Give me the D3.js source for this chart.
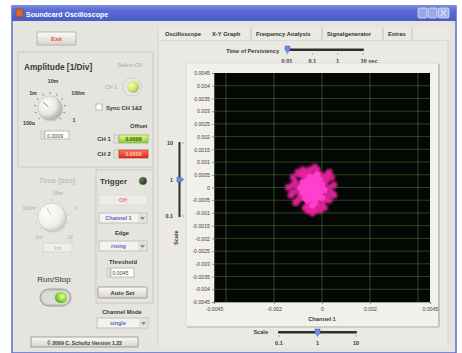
<!DOCTYPE html>
<html><head><meta charset="utf-8">
<script src="https://cdn.jsdelivr.net/npm/d3@7"></script>
<style>
html,body{margin:0;padding:0;background:#fff;}
svg{display:block;font-family:"Liberation Sans","DejaVu Sans",sans-serif;}
</style></head>
<body>
<svg id="c" width="462" height="353"></svg>
<script>
// ---------- data ----------
const yTickValues = [0.0045,0.004,0.0035,0.003,0.0025,0.002,0.0015,0.001,0.0005,0,-0.0005,-0.001,-0.0015,-0.002,-0.0025,-0.003,-0.0035,-0.004,-0.0045];
const yTickLabels = ["0.0045","0.004","0.0035","0.003","0.0025","0.002","0.0015","0.001","0.0005","0","-0.0005","-0.001","-0.0015","-0.002","-0.0025","-0.003","-0.0035","-0.004","-0.0045"];
const xTickValues = [-0.0045,-0.002,0,0.002,0.0045];
const xTickLabels = ["-0.0045","-0.002","0","0.002","0.0045"];
const xGridValues = [-0.004,-0.002,0,0.002,0.004];
const tabs = ["Oscilloscope","X-Y Graph","Frequency Analysis","Signalgenerator","Extras"];
const persistencyLabels = ["0.01","0.1","1","10 sec"];
const scaleLabels = ["0.1","1","10"];
// X-Y samples (Channel 1, Channel 2)
const ch1 = [-0.0004,-0.0002,-0.0006,-0.0003,-0.0005,-0.0001,-0.0007,-0.0004,-0.0002,-0.0006,0,-0.0008,-0.0003,-0.0005,-0.0001,-0.0009,0.0001,-0.0004,-0.0007,-0.0002,-0.0006,0,-0.0008,-0.0003,-0.0005,-0.0001,-0.0004,-0.0002,-0.0006,-0.0003,-0.0005,-0.0007,-0.0004,-0.0002,-0.0003,-0.0005,-0.0001,-0.0006,-0.0004,-0.0003,-0.0008,0.0001,-0.001,0.0002,-0.0005,-0.0002,-0.0007,-0.0009,0,-0.0004,-0.0006,0.0001,-0.0011,0.0003,-0.0004,-0.0008,-0.0001,-0.001,0.0002,-0.0003,-0.0006,0,-0.0012,0.0004,-0.0005,-0.0009,0.0003,-0.0007,-0.0002,-0.0012,0.0005,-0.0004,-0.0011,0.0002,-0.0008,0.0001,-0.0013,-0.0006,0.0004,-0.0003,-0.0012,0.0005,-0.0001,-0.001,-0.0014,0.0003,-0.0005,-0.0003,-0.0007,-0.0001,-0.0002,-0.0006];
const ch2 = [-0.0001,0,-0.0002,0.0002,-0.0004,-0.0002,0.0001,0.0003,-0.0004,-0.0005,0.0001,-0.0002,-0.0006,0.0004,0.0003,0,-0.0001,-0.0007,-0.0004,0.0005,0.0003,-0.0004,0.0002,-0.0002,0,0,0.0001,0.0002,-0.0001,-0.0003,-0.0002,-0.0001,-0.0004,-0.0001,0,0.0002,-0.0003,0.0001,-0.0002,0.0004,-0.0004,0.0002,-0.0001,-0.0003,-0.0006,-0.0007,0.0004,-0.0003,0.0004,0.0005,-0.0007,-0.0005,0.0002,0,-0.0009,0.0005,0.0005,-0.0005,0.0003,-0.0008,0.0005,-0.0007,-0.0002,-0.0002,0.0007,0.0005,-0.0005,-0.0008,0.0007,0.0001,0.0001,-0.001,-0.0006,0.0005,0.0007,-0.0008,-0.0003,-0.0009,0.0004,0.0008,0.0004,-0.0003,-0.0009,0.0006,0,0.0006,-0.0009,-0.0009,0.0006,0.0005,-0.0006,0.0005];

// ---------- helpers ----------
const svg = d3.select("#c");
const defs = svg.append("defs");
function lin(id, stops, vertical=true){
  const g = defs.append("linearGradient").attr("id",id)
    .attr("x1",0).attr("y1",0).attr("x2",vertical?0:1).attr("y2",vertical?1:0);
  stops.forEach(s=>g.append("stop").attr("offset",s[0]).attr("stop-color",s[1]));
}
function rad(id, stops, cx="35%", cy="35%"){
  const g = defs.append("radialGradient").attr("id",id).attr("cx",cx).attr("cy",cy).attr("r","70%");
  stops.forEach(s=>g.append("stop").attr("offset",s[0]).attr("stop-color",s[1]));
}
lin("title",[[0,"#7388e0"],[0.3,"#5a6cd4"],[1,"#4a5cc6"]]);
lin("btn",[[0,"#fbfbf9"],[1,"#d6d4cc"]]);
lin("green",[[0,"#e8ff7a"],[1,"#7ed23a"]]);
lin("red",[[0,"#ff7a5a"],[1,"#e2231b"]]);
rad("knob",[[0,"#ffffff"],[0.6,"#e6e6e2"],[1,"#a9a8a2"]]);
rad("knobG",[[0,"#ffffff"],[0.7,"#f0efec"],[1,"#cfcec9"]]);
rad("led",[[0,"#f6ffb0"],[0.6,"#cfe86a"],[1,"#9fb97a"]]);
rad("ledDark",[[0,"#5d7d4a"],[1,"#1f3318"]]);
rad("run",[[0,"#f2ffa0"],[0.5,"#8fe03a"],[1,"#4c9a1a"]],"60%","40%");
const blur = defs.append("filter").attr("id","soft").attr("x","-30%").attr("y","-30%").attr("width","160%").attr("height","160%");
blur.append("feGaussianBlur").attr("stdDeviation",1.1);

function text(x,y,s,opt={}){
  return svg.append("text").attr("x",x).attr("y",y).text(s)
    .attr("font-size",opt.size||6.5).attr("font-weight",opt.weight||"bold")
    .attr("fill",opt.fill||"#3a3a3a").attr("text-anchor",opt.anchor||"start")
    .attr("transform",opt.transform||null);
}
function rect(x,y,w,h,fill,stroke,sw=1,rx=0){
  return svg.append("rect").attr("x",x).attr("y",y).attr("width",w).attr("height",h)
    .attr("fill",fill).attr("stroke",stroke||"none").attr("stroke-width",sw).attr("rx",rx);
}
function dropdown(x,y,w,h,label,col){
  rect(x,y,w,h,"#f3f2ee","#b9b7b0",0.8);
  rect(x+w-9,y+1,8,h-2,"#e4e2dc","none");
  svg.append("path").attr("d",`M${x+w-7},${y+h/2-1}l2.5,3l2.5,-3z`).attr("fill","#888");
  text(x+(w-9)/2,y+h/2+2.2,label,{size:5.5,fill:col||"#5b66c8",anchor:"middle"});
}
function knob(cx,cy,r,fillId,tickCol,pointerAng,pCol){
  for(let i=0;i<=10;i++){
    const a = (-225 + i*27)*Math.PI/180;
    svg.append("line").attr("x1",cx+Math.cos(a)*(r+2)).attr("y1",cy+Math.sin(a)*(r+2))
      .attr("x2",cx+Math.cos(a)*(r+4)).attr("y2",cy+Math.sin(a)*(r+4))
      .attr("stroke",tickCol).attr("stroke-width",0.8);
  }
  svg.append("circle").attr("cx",cx+1).attr("cy",cy+1.5).attr("r",r).attr("fill","#b8b7b1").attr("opacity",0.5);
  svg.append("circle").attr("cx",cx).attr("cy",cy).attr("r",r).attr("fill",`url(#${fillId})`).attr("stroke","#bdbcb6").attr("stroke-width",0.6);
  const a = pointerAng*Math.PI/180;
  svg.append("line").attr("x1",cx+Math.cos(a)*2).attr("y1",cy+Math.sin(a)*2)
    .attr("x2",cx+Math.cos(a)*(r-3)).attr("y2",cy+Math.sin(a)*(r-3))
    .attr("stroke",pCol).attr("stroke-width",1);
}

// ---------- window ----------
rect(0,0,462,353,"#ffffff");
rect(12,6,444,347,"#e5e4df","#5a6cd0",1.5);
rect(12,6,444,15,"url(#title)");
rect(16,9,7,8,"#d9662a","#8a3a12",0.5);
text(26,17,"Soundcard Oscilloscope",{size:7,fill:"#ffffff"});
rect(418,8,9,10,"#9aaae6","#ffffff",0.6,1.5);
rect(428,8,9,10,"#9aaae6","#ffffff",0.6,1.5);
rect(438,8,11,10,"#a6b2e6","#ffffff",0.6,1.5);
svg.append("path").attr("d","M441,10l5,6M446,10l-5,6").attr("stroke","#fff").attr("stroke-width",0.8);

// ---------- left panel ----------
rect(37,32,39,13,"url(#btn)","#a9a7a0",0.8,1);
text(56.5,41,"Exit",{size:6,fill:"#e0502a",anchor:"middle"});

// Amplitude group
rect(18,52,135,115,"none","#c3c1ba",0.8);
text(24,70,"Amplitude [1/Div]",{size:8.3});
knob(50,108,12,"knob","#6d6d6d",-140,"#888");
text(53,83,"10m",{size:5.3,anchor:"middle"});
text(33,95,"1m",{size:5.3,anchor:"middle"});
text(78,95,"100m",{size:5.3,anchor:"middle"});
text(74,122,"1",{size:5.3,anchor:"middle"});
text(29,125,"100u",{size:5.3,anchor:"middle"});
rect(41,131,3,8,"#e6e4de","#b0aea6",0.5);
rect(45,131,24,8,"#ffffff","#a5a39c",0.7);
text(47,137.5,"0.0009",{size:5.3,weight:"normal",fill:"#444"});
text(130,67,"Select CH",{size:5.3,fill:"#b9b8b2",anchor:"middle"});
svg.append("circle").attr("cx",132).attr("cy",87).attr("r",9).attr("fill","#e9e8e3").attr("stroke","#c9c8c2").attr("stroke-width",0.8);
svg.append("circle").attr("cx",133).attr("cy",87).attr("r",6).attr("fill","url(#led)");
text(111,89,"CH 1",{size:5,fill:"#b9b8b2",anchor:"middle"});
rect(96,104,6,6,"#ffffff","#9c9a94",0.6);
text(106,109.5,"Sync CH 1&2",{size:5.8});
text(130,128,"Offset",{size:6});
text(104,140.5,"CH 1",{size:6,anchor:"middle"});
rect(114,135,4,8,"#e6e4de","#b0aea6",0.5);
rect(119,135,29,8,"url(#green)","#8a9a5a",0.6);
text(133.5,141.3,"0.0000",{size:5.3,fill:"#3a4a10",anchor:"middle"});
text(104,155.5,"CH 2",{size:6,anchor:"middle"});
rect(114,150,4,8,"#e6e4de","#b0aea6",0.5);
rect(119,150,29,8,"url(#red)","#a03020",0.6);
text(133.5,156.3,"0.0000",{size:5.3,fill:"#ffd0c0",anchor:"middle"});

// Time group (disabled)
text(57,183,"Time [sec]",{size:8,weight:"normal",fill:"#b5b4ae",anchor:"middle"});
knob(52,217,14,"knobG","#c4c3bd",-120,"#c8c7c1");
text(58,195,"10m",{size:5,fill:"#bdbcb6",anchor:"middle"});
text(29,210,"100m",{size:5,fill:"#bdbcb6",anchor:"middle"});
text(76,210,"1",{size:5,fill:"#bdbcb6",anchor:"middle"});
text(39,239,"1m",{size:5,fill:"#bdbcb6",anchor:"middle"});
text(70,239,"10",{size:5,fill:"#bdbcb6",anchor:"middle"});
rect(43,243,29,9,"#efeeea","#cfcec8",0.7);
text(57.5,249.5,"1m",{size:5,fill:"#c0bfb9",anchor:"middle"});

// Trigger group
rect(96,170,57,133,"none","#c3c1ba",0.8);
text(100,184,"Trigger",{size:8});
svg.append("circle").attr("cx",143).attr("cy",181).attr("r",3.8).attr("fill","url(#ledDark)").attr("stroke","#7a7a74").attr("stroke-width",0.5);
rect(99,195,48,10,"#eeede9","#d5d3cd",0.6);
text(123,202,"Off",{size:5.5,fill:"#e07a70",anchor:"middle"});
dropdown(99,213,48,10,"Channel 1");
text(122,234.5,"Edge",{size:5.8,anchor:"middle"});
dropdown(99,241,48,10,"rising");
text(123,264,"Threshold",{size:5.8,anchor:"middle"});
rect(107,268,3,9,"#e6e4de","#b0aea6",0.5);
rect(111,268,23,9,"#ffffff","#a5a39c",0.7);
text(112.5,274.8,"0.0045",{size:5.2,weight:"normal",fill:"#444"});
rect(98,287,49,11,"url(#btn)","#8f8d86",0.8,1);
text(122.5,294.6,"Auto Set",{size:5.8,anchor:"middle"});

// Run/Stop
text(54,282,"Run/Stop",{size:8,weight:"normal",fill:"#333",anchor:"middle"});
rect(40,289,31,17,"#c9c8c2","#8d8c86",0.8,8.5);
rect(42,291,27,13,"#dcdbd6","none",0,6.5);
svg.append("ellipse").attr("cx",61).attr("cy",297.5).attr("rx",6).attr("ry",5.5).attr("fill","url(#run)");

// Channel mode
text(122,314,"Channel Mode",{size:5.8,anchor:"middle"});
dropdown(97,318,51,10,"single");

// copyright
rect(31,337,107,10,"url(#btn)","#8f8d86",0.8);
text(84.5,344.5,"© 2009  C. Schultz  Version 1.22",{size:5.2,anchor:"middle"});

// ---------- right tab area ----------
rect(158,27,291,321,"#eae9e4","none");
svg.append("line").attr("x1",158).attr("x2",158).attr("y1",27).attr("y2",348).attr("stroke","#d0cec7").attr("stroke-width",0.8);
const tabX = [164,211,255,326,387];
const tabW = [44,40,67,57,25];
tabs.forEach((t,i)=>{
  text(tabX[i]+1,36,t,{size:5.8,fill:"#333"});
  svg.append("line").attr("x1",tabX[i]+tabW[i]).attr("x2",tabX[i]+tabW[i]).attr("y1",28).attr("y2",40)
    .attr("stroke", i>=1 ? "#b9b7b0":"none").attr("stroke-width",0.8);
});
svg.append("line").attr("x1",158).attr("x2",449).attr("y1",40.5).attr("y2",40.5).attr("stroke","#d3d1ca").attr("stroke-width",0.7);
svg.append("line").attr("x1",448).attr("x2",448).attr("y1",40).attr("y2",346).attr("stroke","#d6d4ce").attr("stroke-width",1);

// Time of persistency slider
text(279,53,"Time of Persistency",{size:5.6,anchor:"end"});
const persX = d3.scalePoint().domain(persistencyLabels).range([287,363]);
rect(287,48.5,77,2.5,"#2f2f2f","none",0,1);
persistencyLabels.forEach((l,i)=>{
  svg.append("line").attr("x1",persX(l)).attr("x2",persX(l)).attr("y1",53).attr("y2",55).attr("stroke","#888").attr("stroke-width",0.6);
  text(persX(l)+(i===3?6:0),63,l,{size:5.6,anchor:"middle"});
});
svg.append("path").attr("d","M285,46h5v4l-2.5,3l-2.5,-3z").attr("fill","#6a8fe0").attr("stroke","#3c5fb0").attr("stroke-width",0.5);

// graph frame
rect(186,63,253,264,"#f1f0ec","#d9d7d1",0.8);
svg.append("line").attr("x1",439).attr("x2",439).attr("y1",64).attr("y2",327).attr("stroke","#c6c4bd").attr("stroke-width",2);
svg.append("line").attr("x1",187).attr("x2",439).attr("y1",327).attr("y2",327).attr("stroke","#c6c4bd").attr("stroke-width",1.5);

// plot
const PL=214, PR=430, PT=73, PB=302;
const x = d3.scaleLinear().domain([-0.0045,0.0045]).range([PL,PR]);
const y = d3.scaleLinear().domain([-0.0045,0.0045]).range([PB,PT]);
rect(PL,PT,PR-PL,PB-PT,"#050705","none");
const grid = svg.append("g");
grid.selectAll("line.h").data(yTickValues.slice(1,-1)).join("line")
  .attr("x1",PL).attr("x2",PR).attr("y1",d=>y(d)).attr("y2",d=>y(d))
  .attr("stroke","#3d6a2c").attr("stroke-width",0.8).attr("opacity",0.8);
grid.selectAll("line.v").data(xGridValues).join("line")
  .attr("y1",PT).attr("y2",PB).attr("x1",d=>x(d)).attr("x2",d=>x(d))
  .attr("stroke","#4a6e35").attr("stroke-width",0.8).attr("opacity",0.8);

// axes
const yAxis = d3.axisLeft(y).tickValues(yTickValues).tickFormat((d,i)=>yTickLabels[i]).tickSize(2).tickPadding(2);
const gy = svg.append("g").attr("transform",`translate(${PL},0)`).call(yAxis);
const xAxis = d3.axisBottom(x).tickValues(xTickValues).tickFormat((d,i)=>xTickLabels[i]).tickSize(2).tickPadding(3);
const gx = svg.append("g").attr("transform",`translate(0,${PB})`).call(xAxis);
[gy,gx].forEach(g=>{
  g.select(".domain").attr("stroke","#777").attr("stroke-width",0.6);
  g.selectAll(".tick line").attr("stroke","#666").attr("stroke-width",0.6);
  g.selectAll(".tick text").attr("font-size",5.2).attr("fill","#444").attr("font-weight","normal")
    .attr("font-family","Liberation Sans, DejaVu Sans, sans-serif");
});
text(322,321,"Channel 1",{size:5.8,anchor:"middle"});

// XY points
const pts = ch1.map((v,i)=>[v,ch2[i]]);
svg.append("g").attr("filter","url(#soft)")
  .selectAll("circle").data(pts).join("circle")
  .attr("cx",d=>x(d[0])).attr("cy",d=>y(d[1])).attr("r",3.4)
  .attr("fill","#e8239e").attr("opacity",0.9);
svg.append("g")
  .selectAll("circle").data(pts.slice(0,40)).join("circle")
  .attr("cx",d=>x(d[0])).attr("cy",d=>y(d[1])).attr("r",3.2)
  .attr("fill","#ff3fce").attr("opacity",0.95);

// vertical Scale slider
const vs = d3.scalePoint().domain(scaleLabels).range([216,143]);
rect(178.5,142,2,75,"#2f2f2f","none");
scaleLabels.forEach(l=>{
  text(173,vs(l)+2,l,{size:5.4,anchor:"end"});
  svg.append("line").attr("x1",182).attr("x2",184).attr("y1",vs(l)).attr("y2",vs(l)).attr("stroke","#888").attr("stroke-width",0.6);
});
svg.append("path").attr("d",`M177,${vs("1")-2.5}h4l2.5,2.5l-2.5,2.5h-4z`).attr("fill","#6a8fe0").attr("stroke","#3c5fb0").attr("stroke-width",0.5);
text(0,0,"Scale",{size:5.6,transform:"translate(178,245) rotate(-90)"});

// horizontal Scale slider
const hs = d3.scalePoint().domain(scaleLabels).range([279,356]);
text(268,334,"Scale",{size:5.6,anchor:"end"});
rect(278,331,79,2.5,"#2f2f2f","none",0,1);
scaleLabels.forEach(l=>{
  svg.append("line").attr("x1",hs(l)).attr("x2",hs(l)).attr("y1",335).attr("y2",337).attr("stroke","#888").attr("stroke-width",0.6);
  text(hs(l),345,l,{size:5.6,anchor:"middle"});
});
svg.append("path").attr("d",`M${hs("1")-2.5},329h5v4l-2.5,3l-2.5,-3z`).attr("fill","#6a8fe0").attr("stroke","#3c5fb0").attr("stroke-width",0.5);
</script>
</body></html>
